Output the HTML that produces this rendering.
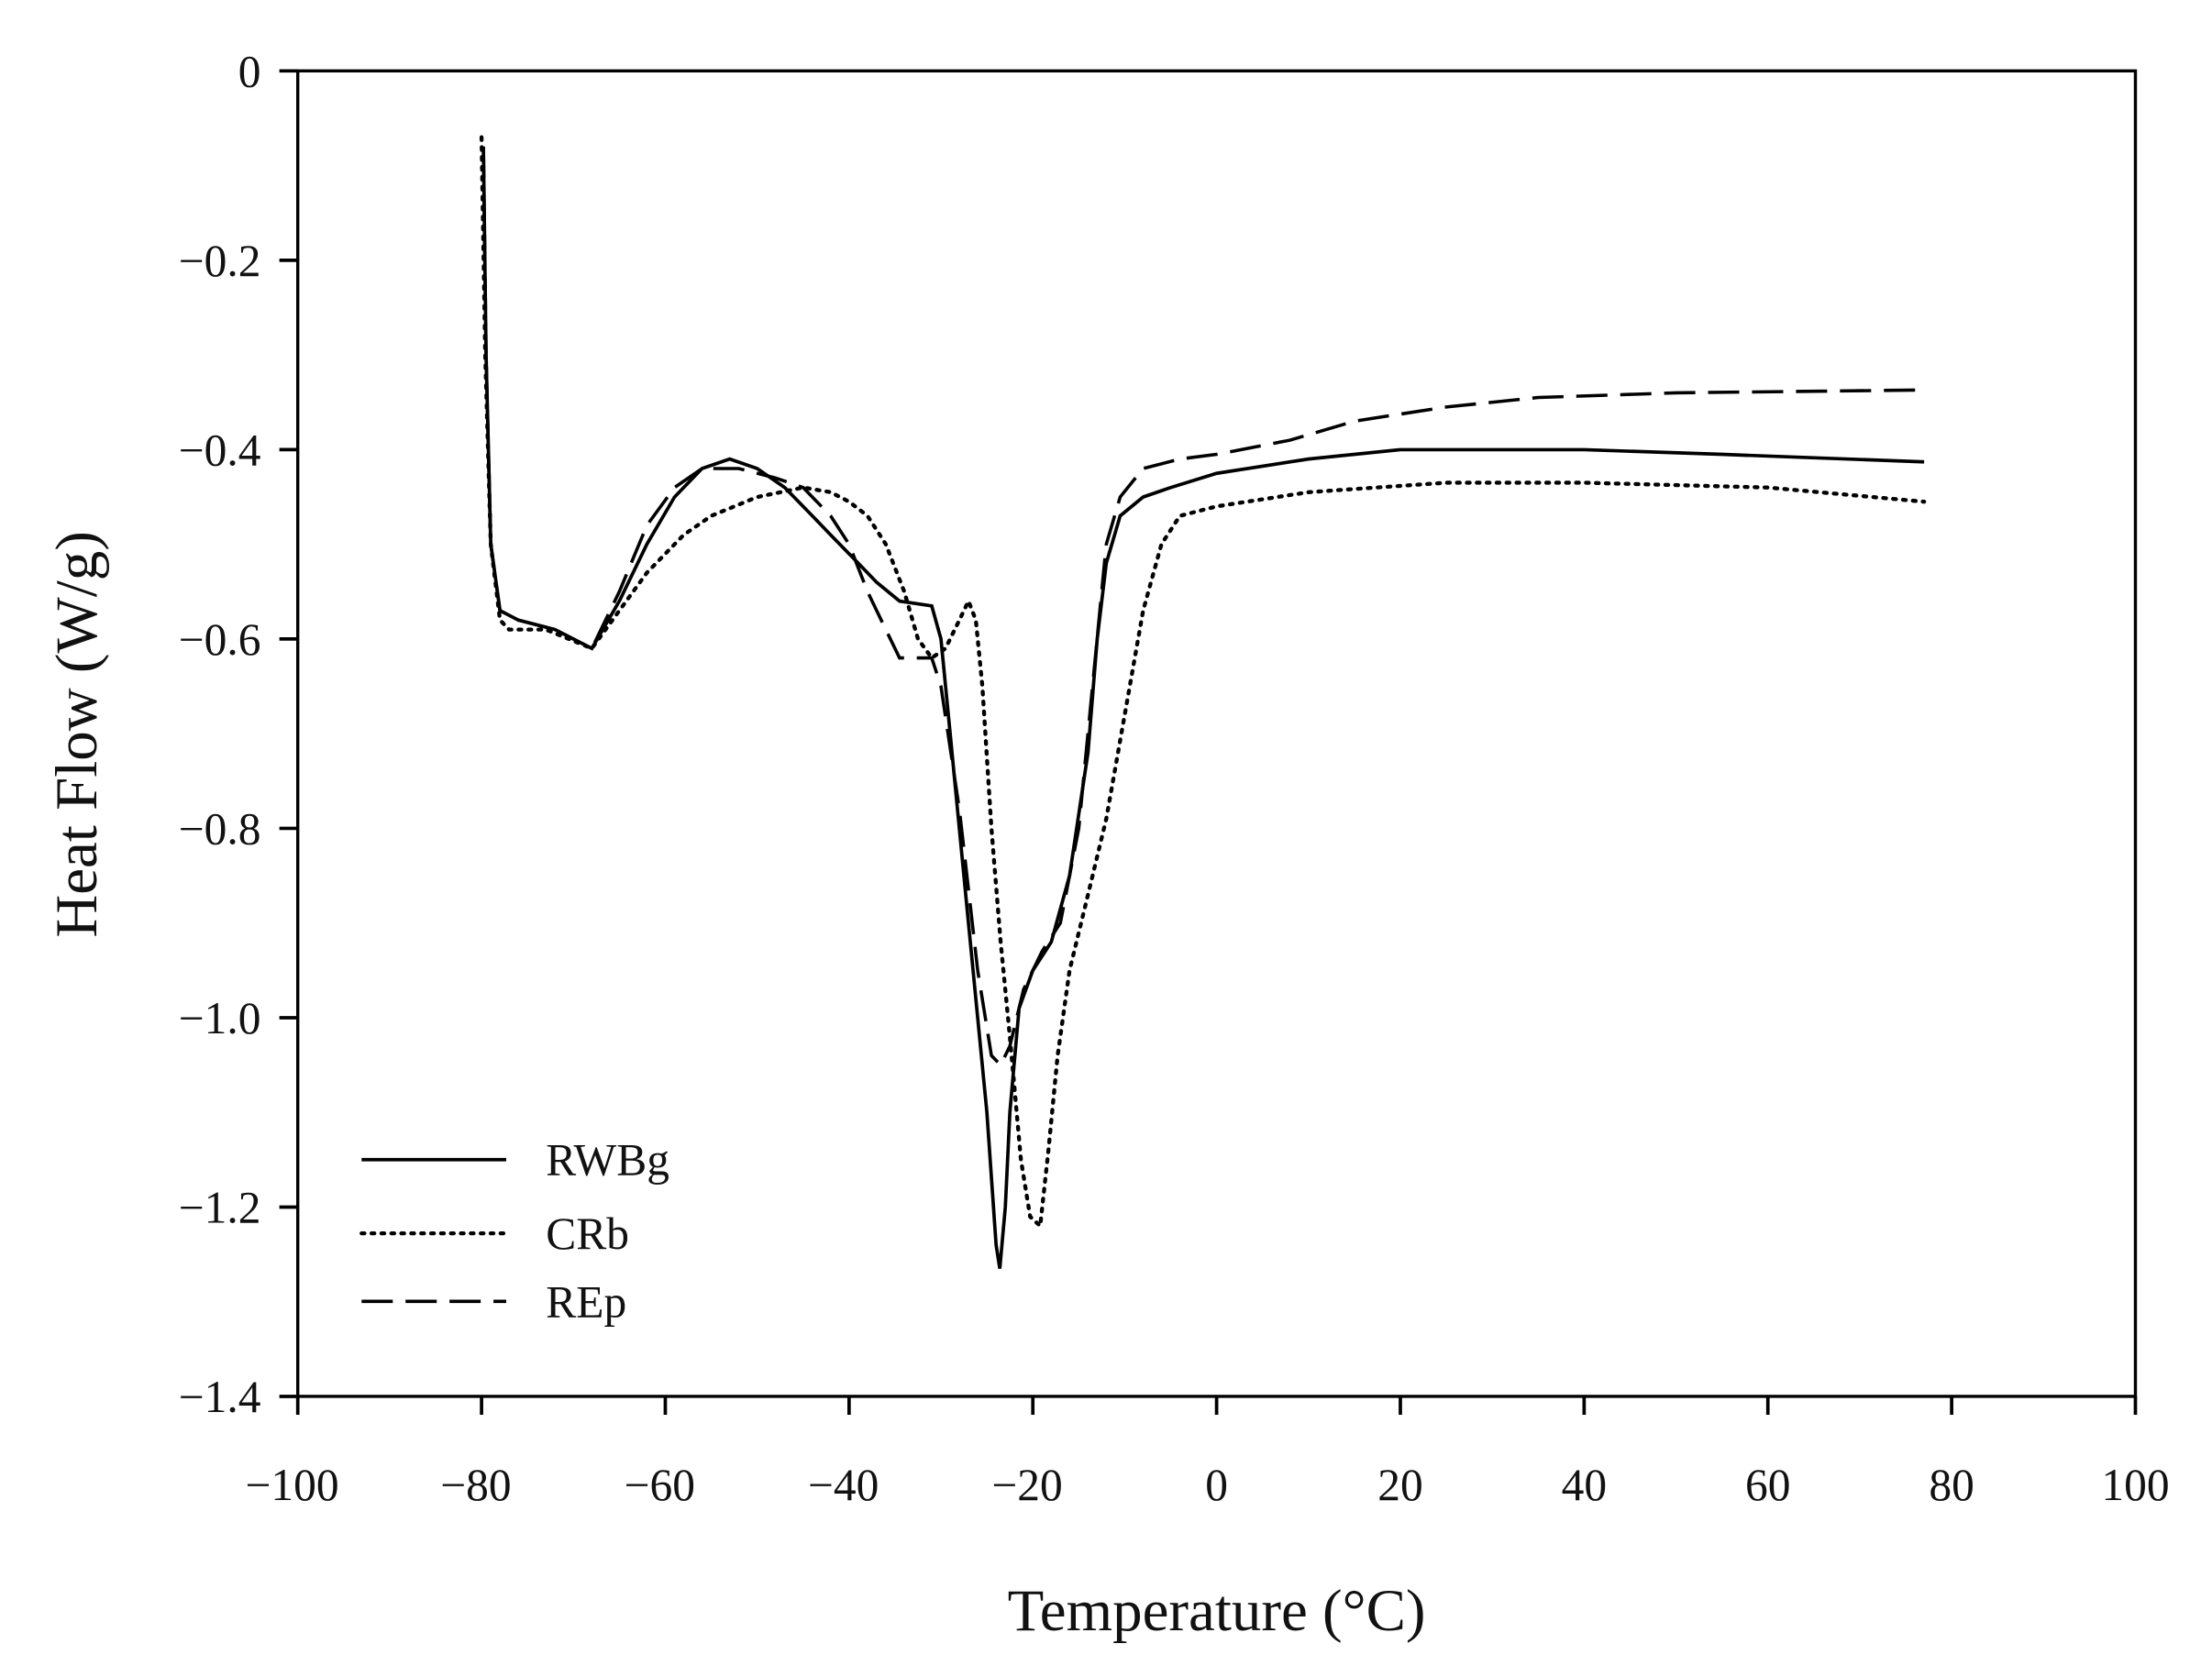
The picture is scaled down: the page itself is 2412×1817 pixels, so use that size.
<!DOCTYPE html>
<html><head><meta charset="utf-8"><style>
html,body{margin:0;padding:0;background:#fff;}
svg{display:block;}
text{font-family:"Liberation Serif",serif;fill:#111;}
</style></head><body>
<svg id="s" width="2412" height="1817" viewBox="0 0 1560 1175.2" xmlns="http://www.w3.org/2000/svg">
<rect x="210" y="50" width="1296" height="935" fill="none" stroke="#000" stroke-width="2.2"/>
<g id="ticks" stroke="#000" stroke-width="2.4"></g>
<g font-size="32" text-anchor="end" id="yl"></g>
<g font-size="32" text-anchor="middle" id="xl"></g>
<text x="858" y="1150" font-size="42" text-anchor="middle">Temperature (°C)</text>
<text transform="translate(68,518) rotate(-90)" font-size="42" text-anchor="middle">Heat Flow (W/g)</text>
<g fill="none" stroke="#000">
<path id="crb" stroke-width="2.8" stroke-dasharray="2 5" stroke-linecap="round"/>
<path id="rep" stroke-width="2.3" stroke-dasharray="22 9"/>
<path id="rwb" stroke-width="2.4"/>
<line x1="255" y1="818" x2="357" y2="818" stroke-width="2.4"/>
<line x1="255" y1="870" x2="357" y2="870" stroke-width="2.8" stroke-dasharray="2 5" stroke-linecap="round"/>
<line x1="255" y1="918" x2="357" y2="918" stroke-width="2.3" stroke-dasharray="22 9"/>
</g>
<g font-size="32">
<text x="385" y="829">RWBg</text>
<text x="385" y="881">CRb</text>
<text x="385" y="929">REp</text>
</g>
</svg>
<script>
function X(t){return 210+(t+100)*6.48;}
function Y(v){return 50-v*667.9;}
var tk=document.getElementById('ticks'),h='',yl='',xl='';
var ylab=['0','−0.2','−0.4','−0.6','−0.8','−1.0','−1.2','−1.4'];
for(var i=0;i<8;i++){var y=Y(-0.2*i);h+='<line x1="197" x2="210" y1="'+y+'" y2="'+y+'"/>';yl+='<text x="184" y="'+(y+11)+'">'+ylab[i]+'</text>';}
for(var t=-100;t<=100;t+=20){var x=X(t);h+='<line y1="985" y2="998" x1="'+x+'" x2="'+x+'"/>';xl+='<text x="'+(x+(t<0?-4:0))+'" y="1058">'+(t<0?'−'+(-t):t)+'</text>';}
tk.innerHTML=h;document.getElementById('yl').innerHTML=yl;document.getElementById('xl').innerHTML=xl;
function P(id,pts){var d='';for(var i=0;i<pts.length;i++){d+=(i?'L':'M')+X(pts[i][0]).toFixed(1)+' '+Y(pts[i][1]).toFixed(1);}document.getElementById(id).setAttribute('d',d);}
P('rwb',[[-79.8,-0.08],[-79.5,-0.3],[-79,-0.5],[-78,-0.57],[-76,-0.58],[-72,-0.59],[-68,-0.61],[-65,-0.56],[-62,-0.5],[-59,-0.45],[-56,-0.42],[-53,-0.41],[-50,-0.42],[-47,-0.44],[-44,-0.47],[-42,-0.49],[-39,-0.52],[-37,-0.54],[-34.5,-0.56],[-31,-0.565],[-30,-0.6],[-29,-0.7],[-27,-0.9],[-25,-1.1],[-24,-1.24],[-23.6,-1.265],[-23,-1.2],[-22.5,-1.1],[-21.5,-0.99],[-20,-0.95],[-18,-0.92],[-16,-0.85],[-14,-0.72],[-13,-0.6],[-12,-0.52],[-10.5,-0.47],[-8,-0.45],[-5,-0.44],[0,-0.425],[10,-0.41],[20,-0.4],[40,-0.4],[55,-0.405],[77,-0.413]]);
P('rep',[[-79.8,-0.08],[-79.5,-0.3],[-79,-0.5],[-78,-0.57],[-76,-0.58],[-72,-0.59],[-68,-0.61],[-65,-0.55],[-62,-0.48],[-59,-0.44],[-56,-0.42],[-52,-0.42],[-48,-0.43],[-45,-0.44],[-42,-0.47],[-40,-0.5],[-38,-0.55],[-36,-0.59],[-34.5,-0.62],[-31,-0.62],[-30,-0.65],[-28,-0.78],[-26,-0.95],[-24.5,-1.04],[-23.5,-1.05],[-22.5,-1.03],[-21,-0.97],[-19,-0.93],[-17,-0.9],[-15,-0.8],[-13.5,-0.65],[-12,-0.5],[-10.5,-0.45],[-8,-0.42],[-4,-0.41],[0,-0.405],[8,-0.39],[15,-0.37],[25,-0.355],[35,-0.345],[50,-0.34],[77,-0.337]]);
P('crb',[[-80,-0.07],[-79.6,-0.3],[-79,-0.5],[-78,-0.58],[-77,-0.59],[-73,-0.59],[-68,-0.61],[-65,-0.57],[-62,-0.53],[-58,-0.49],[-55,-0.47],[-50,-0.45],[-45,-0.44],[-42,-0.445],[-40,-0.455],[-38,-0.47],[-36,-0.5],[-34,-0.55],[-32.5,-0.6],[-31,-0.62],[-29.5,-0.61],[-28,-0.58],[-27,-0.56],[-26.2,-0.58],[-25.5,-0.65],[-24.5,-0.8],[-23.5,-0.92],[-22.5,-1.02],[-21.3,-1.15],[-20.3,-1.21],[-19.2,-1.22],[-18.3,-1.14],[-17.3,-1.04],[-16,-0.95],[-14,-0.87],[-12,-0.79],[-10,-0.68],[-8,-0.57],[-6,-0.5],[-4,-0.47],[0,-0.46],[10,-0.445],[25,-0.435],[40,-0.435],[60,-0.44],[77,-0.455]]);
</script>
</body></html>
